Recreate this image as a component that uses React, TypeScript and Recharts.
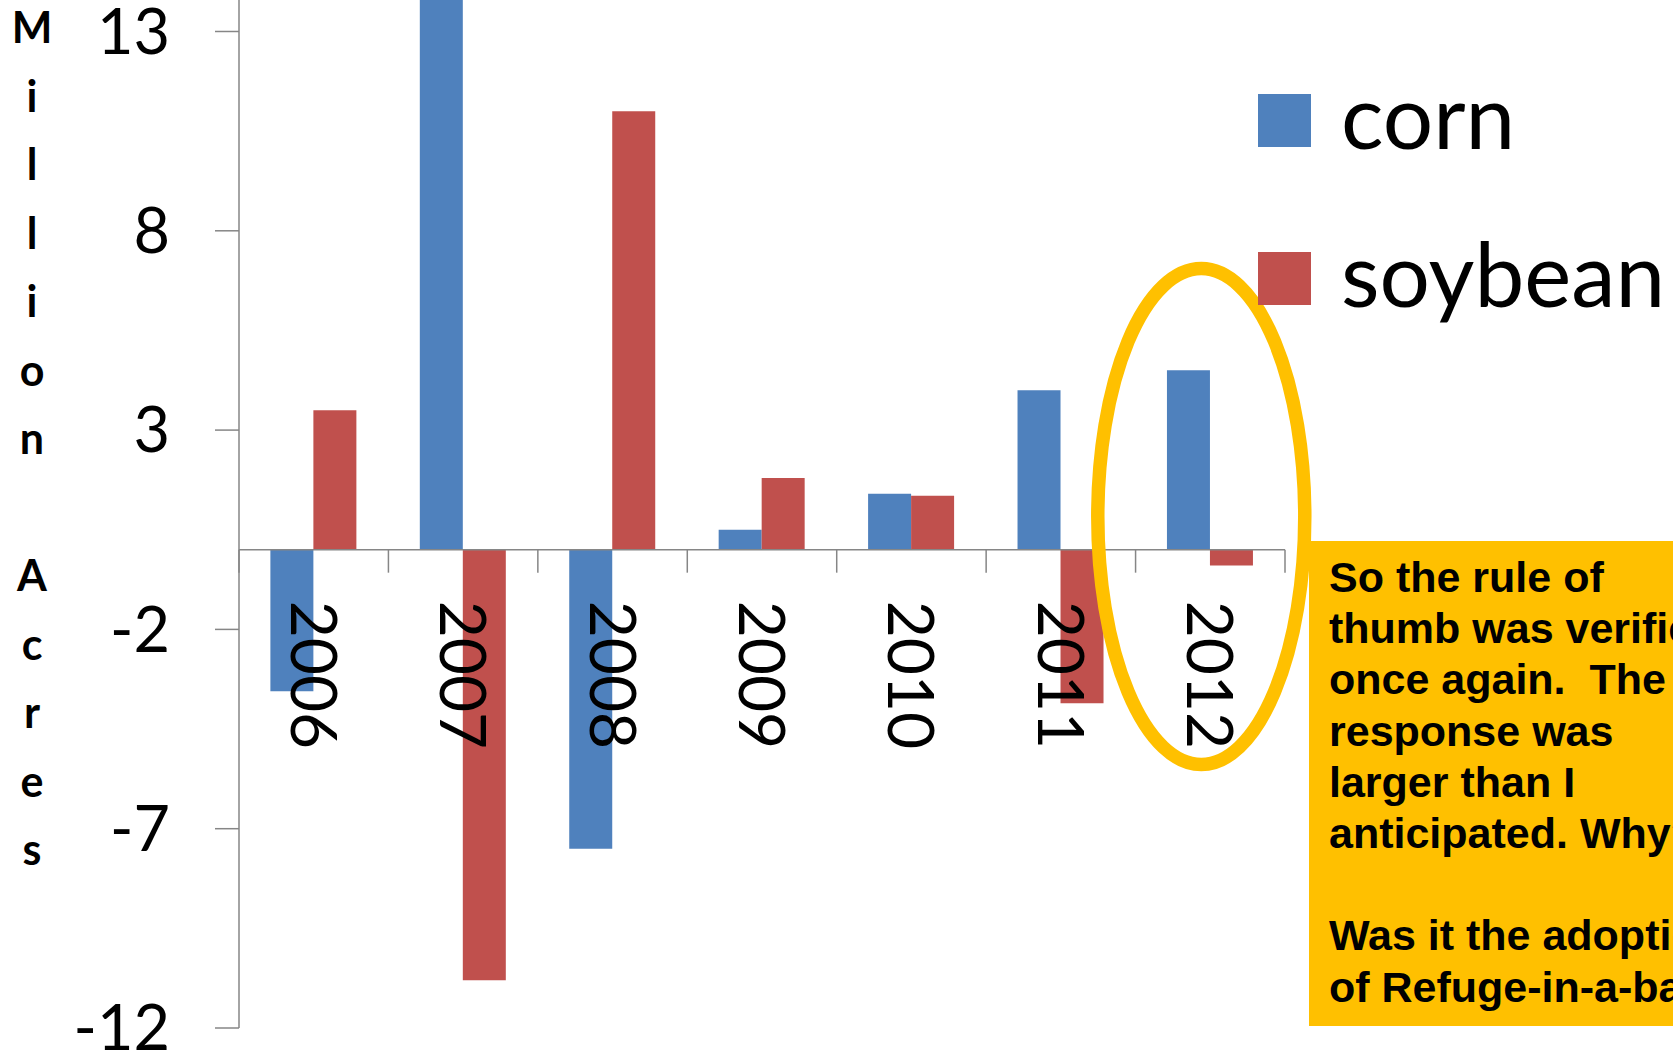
import { Bar, BarChart, Legend, ReferenceDot, ReferenceLine, XAxis, YAxis } from "recharts";

// Year-over-year change in planted acres (million acres)
const years = ["2006", "2007", "2008", "2009", "2010", "2011", "2012"];
const corn = [-3.55, 15.2, -7.5, 0.5, 1.4, 4.0, 4.5];
const soybean = [3.5, -10.8, 11.0, 1.8, 1.35, -3.85, -0.4];
const yTicks = [-12, -7, -2, 3, 8, 13];
const yTitle = "Million Acres";
const note = [
  "So the rule of",
  "thumb was verified",
  "once again.  The",
  "response was",
  "larger than I",
  "anticipated. Why?",
  "",
  "Was it the adoption",
  "of Refuge-in-a-bag?",
];

const data = years.map((year, i) => ({ year, corn: corn[i], soybean: soybean[i] }));

const W = 1673;
const H = 1054;
const LEFT = 239;
const RIGHT = 388;
const X_AXIS_H = 26;
const Y_MIN = -12;
const Y_MAX = 13.79;
const PLOT_H = H - X_AXIS_H;
const ZERO_Y = (PLOT_H * Y_MAX) / (Y_MAX - Y_MIN);
const BAND = (W - LEFT - RIGHT) / years.length;

const BLUE = "#4F81BD";
const RED = "#C0504D";
const GOLD = "#FFC000";
const AXIS = "#868686";
const FONT = "Lato, Carlito, sans-serif";

// category labels hang below the zero line, rotated to read downwards
function YearTick(props: any) {
  const { x, payload, index } = props;
  const last = index === years.length - 1;
  return (
    <g>
      <line x1={x - BAND / 2} x2={x - BAND / 2} y1={ZERO_Y} y2={ZERO_Y + 23} stroke={AXIS} strokeWidth={1.5} />
      {last && <line x1={x + BAND / 2} x2={x + BAND / 2} y1={ZERO_Y} y2={ZERO_Y + 23} stroke={AXIS} strokeWidth={1.5} />}
      <text
        transform={`translate(${x}, ${ZERO_Y + 51}) rotate(90)`}
        textAnchor="start"
        dy="0.36em"
        fontSize={64}
        fontFamily={FONT}
        fill="#000"
      >
        {payload.value}
      </text>
    </g>
  );
}

function YTitle() {
  return (
    <text textAnchor="middle" fontFamily={FONT} fontWeight={700} fontSize={43} fill="#000">
      {Array.from(yTitle).map((ch, i) =>
        ch === " " ? null : (
          <tspan key={i} x={32} y={43 + 68.5 * i}>
            {ch}
          </tspan>
        )
      )}
    </text>
  );
}

function LegendBox({ payload }: any) {
  return (
    <svg width={420} height={320}>
      {(payload ?? []).map((p: any, i: number) => (
        <g key={p.value} transform={`translate(0, ${i * 158})`}>
          <rect width={53} height={53} fill={p.color} />
          <text x={83} y={55} fontSize={89} fontFamily={FONT} fill="#000">
            {p.value}
          </text>
        </g>
      ))}
    </svg>
  );
}

export default function App() {
  return (
    <div style={{ position: "absolute", left: 0, top: 0, width: W, height: H, overflow: "hidden", background: "#fff" }}>
      <BarChart
        width={W}
        height={H}
        data={data}
        margin={{ top: 0, right: RIGHT, bottom: 0, left: 0 }}
        barCategoryGap="21%"
        barGap={0}
      >
        <XAxis dataKey="year" height={X_AXIS_H} axisLine={false} tickLine={false} tick={<YearTick />} interval={0} />
        <YAxis
          width={LEFT}
          domain={[Y_MIN, Y_MAX]}
          allowDataOverflow
          ticks={yTicks}
          interval={0}
          tickSize={24}
          tickMargin={45}
          axisLine={{ stroke: AXIS, strokeWidth: 1.5 }}
          tickLine={{ stroke: AXIS, strokeWidth: 1.5 }}
          tick={{ fontSize: 63, fontFamily: FONT, fill: "#000" }}
          label={<YTitle />}
        />
        <Legend
          layout="vertical"
          align="center"
          verticalAlign="middle"
          wrapperStyle={{ left: 1258, top: 94, width: 420, height: 320 }}
          content={<LegendBox />}
        />
        <Bar dataKey="corn" name="corn" fill={BLUE} isAnimationActive={false} />
        <Bar dataKey="soybean" name="soybean" fill={RED} isAnimationActive={false} />
        <ReferenceLine y={0} stroke={AXIS} strokeWidth={1.5} />
        <ReferenceDot
          x="2012"
          y={0.83}
          ifOverflow="visible"
          shape={(p: any) => (
            <ellipse cx={p.cx - 9} cy={p.cy} rx={103.5} ry={248} fill="none" stroke={GOLD} strokeWidth={13.5} />
          )}
        />
      </BarChart>
      <div
        style={{
          position: "absolute",
          left: 1309,
          top: 541,
          width: 560,
          height: 485,
          boxSizing: "border-box",
          padding: "11px 0 0 20px",
          background: GOLD,
          fontFamily: "'Liberation Sans', Arial, sans-serif",
          fontWeight: 700,
          fontSize: 43,
          lineHeight: "51.2px",
          color: "#000",
          whiteSpace: "pre",
        }}
      >
        {note.join("\n")}
      </div>
    </div>
  );
}
